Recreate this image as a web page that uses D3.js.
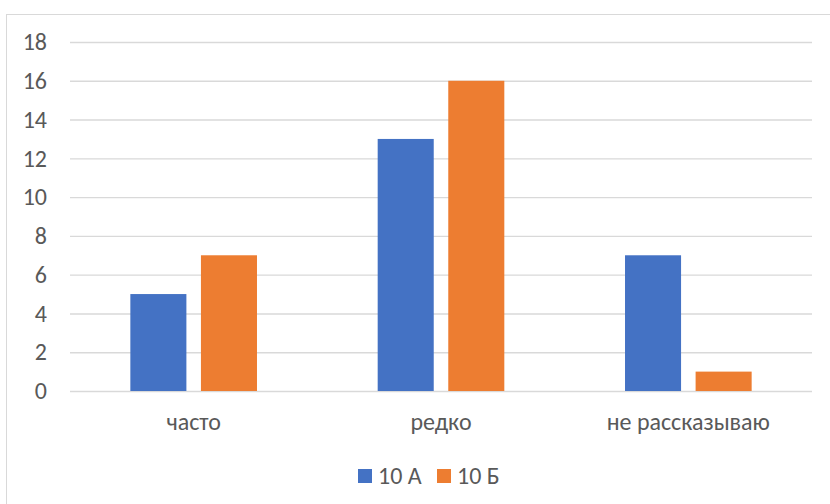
<!DOCTYPE html>
<html>
<head>
<meta charset="utf-8">
<script src="https://cdn.jsdelivr.net/npm/d3@7"></script>
<style>
  html, body { margin: 0; padding: 0; background: #fff; }
  svg { display: block; }
  text { font-family: Carlito, Calibri, "Open Sans", sans-serif; fill: #595959; }
</style>
</head>
<body>
<svg id="chart" width="830" height="504"></svg>
<script>
// Survey answers per class
const categories = ["часто", "редко", "не рассказываю"];
const seriesNames = ["10 А", "10 Б"];
const valuesA = [5, 13, 7];
const valuesB = [7, 16, 1];
const yTicks = [0, 2, 4, 6, 8, 10, 12, 14, 16, 18];
const colors = ["#4472c4", "#ed7d31"];

const seriesValues = [valuesA, valuesB];
const fontSize = 24;
const fontFamily = 'Carlito, Calibri, "Open Sans", sans-serif';
const svg = d3.select("#chart");

// chart frame
svg.append("rect")
  .attr("x", 6.5).attr("y", 14.5)
  .attr("width", 840).attr("height", 520)
  .attr("fill", "none").attr("stroke", "#d9d9d9").attr("stroke-width", 1);

const plot = { left: 70, right: 812, top: 42, bottom: 391 };

const y = d3.scaleLinear().domain([0, 18]).range([plot.bottom, plot.top]);
const x0 = d3.scaleBand().domain(categories)
  .range([plot.left, plot.right]).paddingInner(0.488).paddingOuter(0.244);
const x1 = d3.scaleBand().domain(seriesNames)
  .range([0, x0.bandwidth()]).paddingInner(0.206);

// gridlines
const yAxis = d3.axisLeft(y).tickValues(yTicks)
  .tickSize(-(plot.right - plot.left)).tickPadding(23);
const gy = svg.append("g").attr("transform", `translate(${plot.left},0)`).call(yAxis);
gy.select(".domain").remove();
gy.selectAll(".tick line").attr("stroke", "#d9d9d9").attr("stroke-width", 1.4);
gy.selectAll(".tick text").attr("font-size", fontSize).attr("fill", "#595959")
  .style("font-family", fontFamily);

// bars
const groups = svg.append("g").selectAll("g")
  .data(categories)
  .join("g")
  .attr("transform", d => `translate(${x0(d)},0)`);

groups.selectAll("rect")
  .data((d, i) => seriesNames.map((s, j) => ({ s, v: seriesValues[j][i], j })))
  .join("rect")
  .attr("x", d => x1(d.s))
  .attr("width", x1.bandwidth())
  .attr("y", d => y(d.v))
  .attr("height", d => y(0) - y(d.v))
  .attr("fill", d => colors[d.j]);

// category labels
const xAxis = d3.axisBottom(x0).tickSize(0).tickPadding(22);
const gx = svg.append("g").attr("transform", `translate(0,${plot.bottom})`).call(xAxis);
gx.select(".domain").remove();
gx.selectAll(".tick text").attr("font-size", fontSize).attr("fill", "#595959")
  .style("font-family", fontFamily);

// legend
const legendItems = [
  { name: seriesNames[0], color: colors[0], x: 358 },
  { name: seriesNames[1], color: colors[1], x: 437 }
];
const lg = svg.append("g").selectAll("g").data(legendItems).join("g")
  .attr("transform", d => `translate(${d.x},469)`);
lg.append("rect").attr("width", 14).attr("height", 14).attr("fill", d => d.color);
lg.append("text").attr("x", 20).attr("y", 14.5).attr("font-size", fontSize)
  .style("font-family", fontFamily).text(d => d.name);
</script>
</body>
</html>
